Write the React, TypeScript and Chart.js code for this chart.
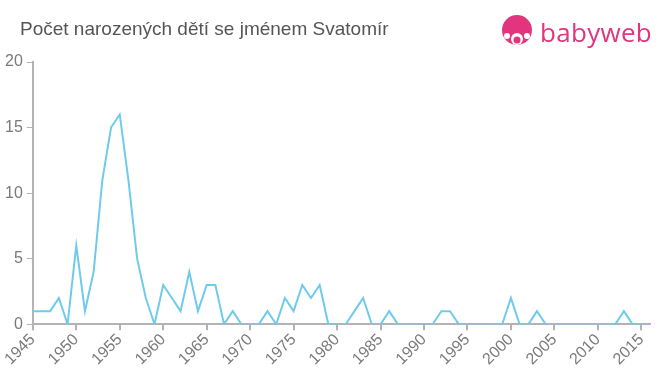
import React, { useEffect, useRef } from "react";
import { Chart, registerables } from "chart.js";

Chart.register(...registerables);

const title = "Počet narozených dětí se jménem Svatomír";
const startYear = 1945;
const endYear = 2016;
const counts = [
  1, 1, 1, 2, 0, 6, 1, 4, 11, 15, // 1945-1954
  16, 11, 5, 2, 0, 3, 2, 1, 4, 1, // 1955-1964
  3, 3, 0, 1, 0, 0, 0, 1, 0, 2, // 1965-1974
  1, 3, 2, 3, 0, 0, 0, 1, 2, 0, // 1975-1984
  0, 1, 0, 0, 0, 0, 0, 1, 1, 0, // 1985-1994
  0, 0, 0, 0, 0, 2, 0, 0, 1, 0, // 1995-2004
  0, 0, 0, 0, 0, 0, 0, 0, 1, 0, // 2005-2014
  0, 0, // 2015-2016
];
const xTicks = [1945, 1950, 1955, 1960, 1965, 1970, 1975, 1980, 1985, 1990, 1995, 2000, 2005, 2010, 2015];
const yTicks = [0, 5, 10, 15, 20];

const lineColor = "#6fcbea";
const axisColor = "#b3b3b3";
const textColor = "#7a7a7a";
const fontFamily = "'Liberation Sans', Arial, sans-serif";

function Logo() {
  return (
    <div
      style={{
        position: "absolute",
        left: 501,
        top: 14,
        display: "flex",
        alignItems: "center",
        color: "#e2357d",
        fontFamily: "'Open Sans', 'Liberation Sans', sans-serif",
        fontSize: 26,
        fontWeight: 500,
      }}
    >
      <svg width="32" height="34" viewBox="0 0 32 34" style={{ marginRight: 7 }}>
        <circle cx="16" cy="15" r="15" fill="#e2357d" />
        <circle cx="16" cy="24" r="6" fill="#ffffff" />
        <circle cx="16" cy="25" r="3.5" fill="#e2357d" />
        <circle cx="6" cy="21" r="3" fill="#ffffff" />
        <circle cx="26" cy="21" r="3" fill="#ffffff" />
      </svg>
      <span style={{ letterSpacing: 0.3 }}>babyweb</span>
    </div>
  );
}

export default function App() {
  const ref = useRef<HTMLCanvasElement | null>(null);

  useEffect(() => {
    if (!ref.current) return;
    const data = counts.map((v, i) => ({ x: startYear + i, y: v }));
    const chart = new Chart(ref.current, {
      type: "line",
      data: {
        datasets: [
          {
            data,
            borderColor: lineColor,
            borderWidth: 2,
            pointRadius: 0,
            tension: 0,
            fill: false,
          },
        ],
      },
      options: {
        animation: false,
        responsive: false,
        maintainAspectRatio: false,
        layout: { padding: { top: 62, right: 10, left: 1, bottom: 6 } },
        plugins: {
          legend: { display: false },
          tooltip: { enabled: false },
          title: { display: false },
        },
        scales: {
          x: {
            type: "linear",
            min: startYear,
            max: endYear,
            afterBuildTicks: (axis: any) => {
              axis.ticks = xTicks.map((v) => ({ value: v }));
            },
            ticks: {
              autoSkip: false,
              maxRotation: 45,
              minRotation: 45,
              color: textColor,
              font: { family: fontFamily, size: 16 },
              padding: 0,
              callback: (v: any) => String(v),
            },
            grid: {
              display: true,
              drawOnChartArea: false,
              drawTicks: true,
              tickLength: 6,
              color: axisColor,
              lineWidth: 2,
            },
            border: { display: true, color: axisColor, width: 2 },
          },
          y: {
            min: 0,
            max: 20,
            afterBuildTicks: (axis: any) => {
              axis.ticks = yTicks.map((v) => ({ value: v }));
            },
            ticks: {
              color: textColor,
              font: { family: fontFamily, size: 16 },
              padding: 4,
            },
            grid: {
              display: true,
              drawOnChartArea: false,
              drawTicks: true,
              tickLength: 6,
              color: axisColor,
              lineWidth: 1,
            },
            border: { display: true, color: axisColor, width: 2 },
          },
        },
      },
    });
    return () => chart.destroy();
  }, []);

  return (
    <div style={{ position: "absolute", left: 0, top: 0, width: 660, height: 375, background: "#fff" }}>
      <canvas ref={ref} width={660} height={375} style={{ position: "absolute", left: 0, top: 0 }} />
      <div
        style={{
          position: "absolute",
          left: 20,
          top: 18,
          fontFamily: fontFamily,
          fontSize: 19,
          color: "#555555",
        }}
      >
        {title}
      </div>
      <Logo />
    </div>
  );
}
